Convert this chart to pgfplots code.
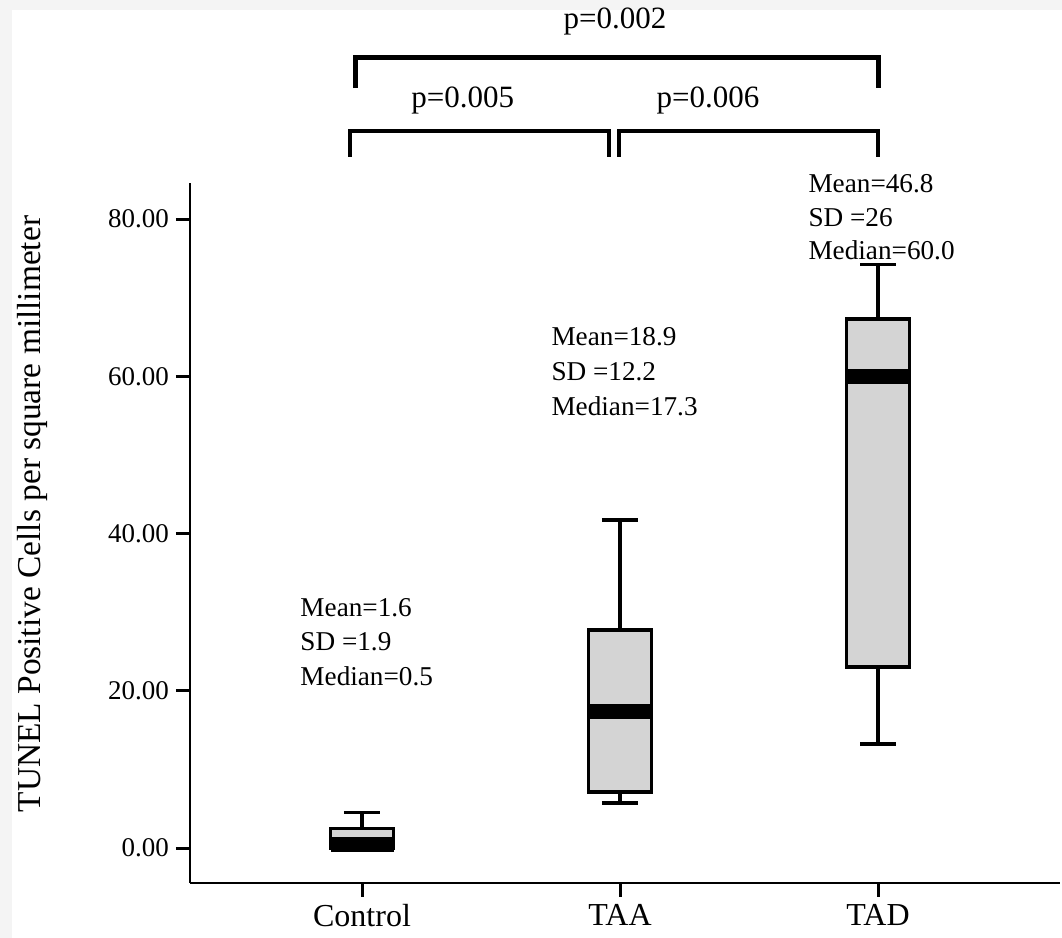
\documentclass[border=0pt]{standalone}
\usepackage{fontspec}
\setmainfont{Liberation Serif}
\usepackage{pgfplots}
\pgfplotsset{compat=1.18}
\usepgfplotslibrary{statistics}
\definecolor{boxgray}{RGB}{212,212,212}
\definecolor{framegray}{RGB}{244,244,244}
\begin{document}
\begin{tikzpicture}
\useasboundingbox (-95pt,-27.5pt) rectangle (436pt,441.5pt);
\fill[framegray] (-95pt,-27.5pt) rectangle (436pt,441.5pt);
\fill[white] (-89pt,-27.5pt) rectangle (436pt,436.5pt);
\begin{axis}[
  scale only axis, width=435pt, height=350pt,
  xmin=-0.6667, xmax=2.705, ymin=-4.45, ymax=84.58,
  axis x line*=bottom, axis y line*=left,
  axis line style={line width=1.2pt, black},
  xtick={0,1,2}, xticklabels={Control,TAA,TAD},
  ytick={0,20,40,60,80},
  tick align=outside, major tick length=7pt,
  every tick/.style={line width=1.5pt, black},
  /pgf/number format/assume math mode=true,
  x tick label style={font=\fontsize{16}{19}\selectfont},
  y tick label style={font=\fontsize{13.5}{16}\selectfont},
  yticklabel style={/pgf/number format/fixed, /pgf/number format/fixed zerofill, /pgf/number format/precision=2, /pgf/number format/assume math mode=true},
  ylabel={TUNEL Positive Cells per square millimeter},
  ylabel style={font=\fontsize{16.7}{20}\selectfont, at={(axis description cs:-0.1816,0.527)}, anchor=center},
  clip=false,
  boxplot/draw direction=y,
  boxplot/box extend=0.244,
  boxplot/whisker extend=0.14,
  boxplot/every median/.style={line width=7.5pt, black},
]
\addplot+[boxplot prepared={draw position=0, lower whisker=0, lower quartile=0, median=0.5, upper quartile=2.5, upper whisker=4.5}, draw=black, solid, line width=1.8pt, fill=boxgray, mark=none] coordinates {};
\addplot+[boxplot prepared={draw position=1, lower whisker=5.7, lower quartile=7.1, median=17.3, upper quartile=27.7, upper whisker=41.7}, draw=black, solid, line width=1.8pt, fill=boxgray, mark=none] coordinates {};
\addplot+[boxplot prepared={draw position=2, lower whisker=13.2, lower quartile=23.0, median=60.0, upper quartile=67.3, upper whisker=74.2}, draw=black, solid, line width=1.8pt, fill=boxgray, mark=none] coordinates {};

% significance brackets
\draw[line width=2.5pt, line cap=butt, line join=miter] (-0.027,96.66) -- (-0.027,100.6) -- (2.0,100.6) -- (2.0,96.66);
\draw[line width=2.2pt, line cap=butt, line join=miter] (-0.0465,87.9) -- (-0.0465,91.19) -- (0.957,91.19) -- (0.957,87.9);
\draw[line width=2.2pt, line cap=butt, line join=miter] (0.996,87.9) -- (0.996,91.19) -- (2.0,91.19) -- (2.0,87.9);
\node[font=\fontsize{15.5}{18}\selectfont] at (0.98,105.06) {p=0.002};
\node[font=\fontsize{15.5}{18}\selectfont] at (0.39,95.1) {p=0.005};
\node[font=\fontsize{15.5}{18}\selectfont] at (1.341,95.1) {p=0.006};

% annotations
\begin{scope}[every node/.style={font=\fontsize{13.6}{16}\selectfont, anchor=base west, inner sep=0pt}]
\node at (-0.240,29.5) {Mean=1.6};
\node at (-0.240,25.06) {SD =1.9};
\node at (-0.240,20.73) {Median=0.5};
\node at (0.733,63.85) {Mean=18.9};
\node at (0.733,59.4) {SD =12.2};
\node at (0.733,54.95) {Median=17.3};
\node at (1.729,83.43) {Mean=46.8};
\node at (1.729,79.1) {SD =26};
\node at (1.729,74.9) {Median=60.0};
\end{scope}
\end{axis}
\end{tikzpicture}
\end{document}
